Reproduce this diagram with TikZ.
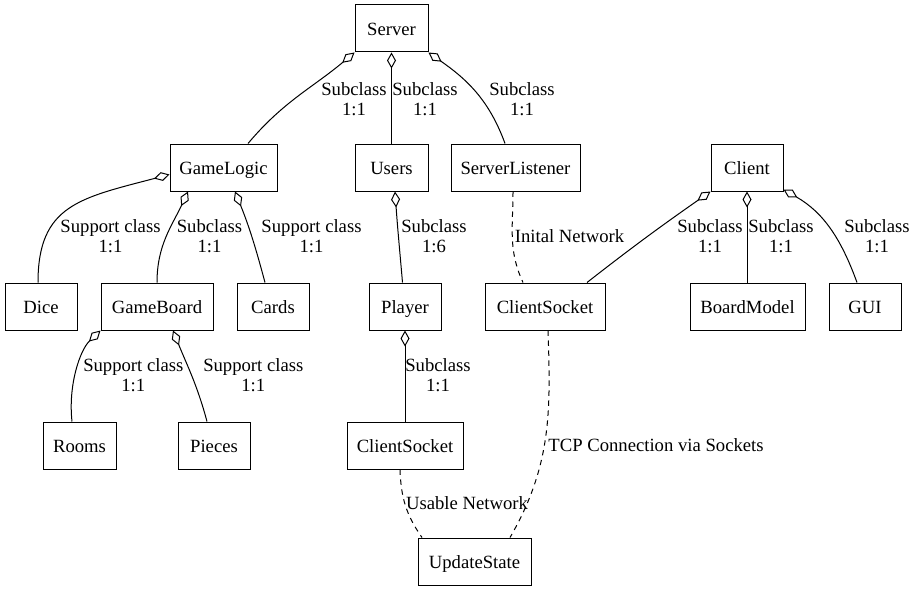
\documentclass[tikz,border=0pt]{standalone}
\usepackage{fontspec}
\setmainfont{Liberation Serif}
\usetikzlibrary{arrows.meta,calc}
\begin{document}
\begin{tikzpicture}[x=0.75pt,y=-0.75pt,
  box/.style={draw, line width=0.75pt, inner sep=0pt, minimum height=35.25pt,
    minimum width=#1*0.75pt, text height=12pt, text depth=0.8pt,
    font=\fontsize{14pt}{17pt}\selectfont},
  lab/.style={inner sep=0pt, align=center, font=\fontsize{14pt}{15pt}\selectfont},
  agg/.style={line width=0.75pt, {Diamond[open,length=12pt,width=6.75pt]}-},
  net/.style={line width=0.75pt, dash pattern=on 4pt off 3.5pt}]
\useasboundingbox (0,0) rectangle (916,592);
% nodes
\node[box=73]  (server)         at (391.5,28.5)  {Server};
\node[box=107] (gamelogic)      at (223.5,167.5) {GameLogic};
\node[box=73]  (users)          at (391.5,167.5) {Users};
\node[box=129] (serverlistener) at (515.5,167.5) {ServerListener};
\node[box=72]  (client)         at (747,167.5)   {Client};
\node[box=72]  (dice)           at (41,306.5)    {Dice};
\node[box=112] (gameboard)      at (157,306.5)   {GameBoard};
\node[box=72]  (cards)          at (273,306.5)   {Cards};
\node[box=72]  (player)         at (405,306.5)   {Player};
\node[box=120] (clientsocket)   at (545,306.5)   {ClientSocket};
\node[box=115] (boardmodel)     at (747.5,306.5) {BoardModel};
\node[box=72]  (gui)            at (865,306.5)   {GUI};
\node[box=73]  (rooms)          at (79.5,445.5)  {Rooms};
\node[box=72]  (pieces)         at (214,445.5)   {Pieces};
\node[box=116] (clientsocketb)  at (405,445.5)   {ClientSocket};
\node[box=113] (updatestate)    at (474.5,561.5) {UpdateState};
% aggregation edges
\draw[agg] (server.south west) to[out=-140,in=50] ($(gamelogic.north)+(24.5,0)$);
\draw[agg] (server.south) -- (users.north);
\draw[agg] (server.south east) to[out=-35,in=110] ($(serverlistener.north)+(-10.5,0)$);
\draw[agg] ($(gamelogic.west)+(0,7)$) .. controls (80,198) and (38,205) .. ($(dice.north)+(-3,0)$);
\draw[agg] ($(gamelogic.south)+(-35.5,0)$) to[out=-115,in=90] (gameboard.north);
\draw[agg] ($(gamelogic.south)+(11.5,0)$) to[out=-68,in=105] ($(cards.north)+(-8,0)$);
\draw[agg] (gameboard.south west) .. controls (80,350) and (68,385) .. ($(rooms.north)+(-7.5,0)$);
\draw[agg] ($(gameboard.south)+(16,0)$) to[out=-68,in=105] ($(pieces.north)+(-7,0)$);
\draw[agg] ($(users.south)+(3.5,0)$) to[out=-86,in=95] ($(player.north)+(-2.5,0)$);
\draw[agg] (player.south) -- (clientsocketb.north);
\draw[agg] (client.south west) to[out=-145,in=38] ($(clientsocket.north)+(42,0)$);
\draw[agg] (client.south) -- (client.south |- boardmodel.north);
\draw[agg] ($(client.south east)+(0,-2)$) to[out=-30,in=110] ($(gui.north)+(-8,0)$);
% network edges
\draw[net] ($(serverlistener.south)+(-2.5,0)$) to[out=-90,in=115] ($(clientsocket.north)+(-22,0)$);
\draw[net] ($(clientsocket.south)+(3,0)$) to[out=-88,in=60] ($(updatestate.north)+(35.5,0)$);
\draw[net] ($(clientsocketb.south)+(-5,0)$) to[out=-88,in=125] ($(updatestate.north)+(-52.5,0)$);
% labels
\node[lab] (l1)  at (354,99.3)   {Subclass\\1:1};
\node[lab] (l2)  at (425,99.3)   {Subclass\\1:1};
\node[lab] (l3)  at (522,99.3)   {Subclass\\1:1};
\node[lab] (l4)  at (110.5,236.6) {Support class\\1:1};
\node[lab] (l5)  at (209.5,236.6) {Subclass\\1:1};
\node[lab] (l6)  at (311.5,236.6) {Support class\\1:1};
\node[lab] (l9)  at (434,236.6)  {Subclass\\1:6};
\node[lab] (l11) at (569.5,236.6) {Inital Network};
\node[lab] (l12) at (710,236.6)  {Subclass\\1:1};
\node[lab] (l13) at (781,236.6)  {Subclass\\1:1};
\node[lab] (l14) at (877,236.6)  {Subclass\\1:1};
\node[lab] (l7)  at (133.3,375.6) {Support class\\1:1};
\node[lab] (l8)  at (253.3,375.6) {Support class\\1:1};
\node[lab] (l10) at (438,375.6)  {Subclass\\1:1};
\node[lab] (l15) at (656,445.3)  {TCP Connection via Sockets};
\node[lab] (l16) at (467,503.6)  {Usable Network};
\end{tikzpicture}
\end{document}
